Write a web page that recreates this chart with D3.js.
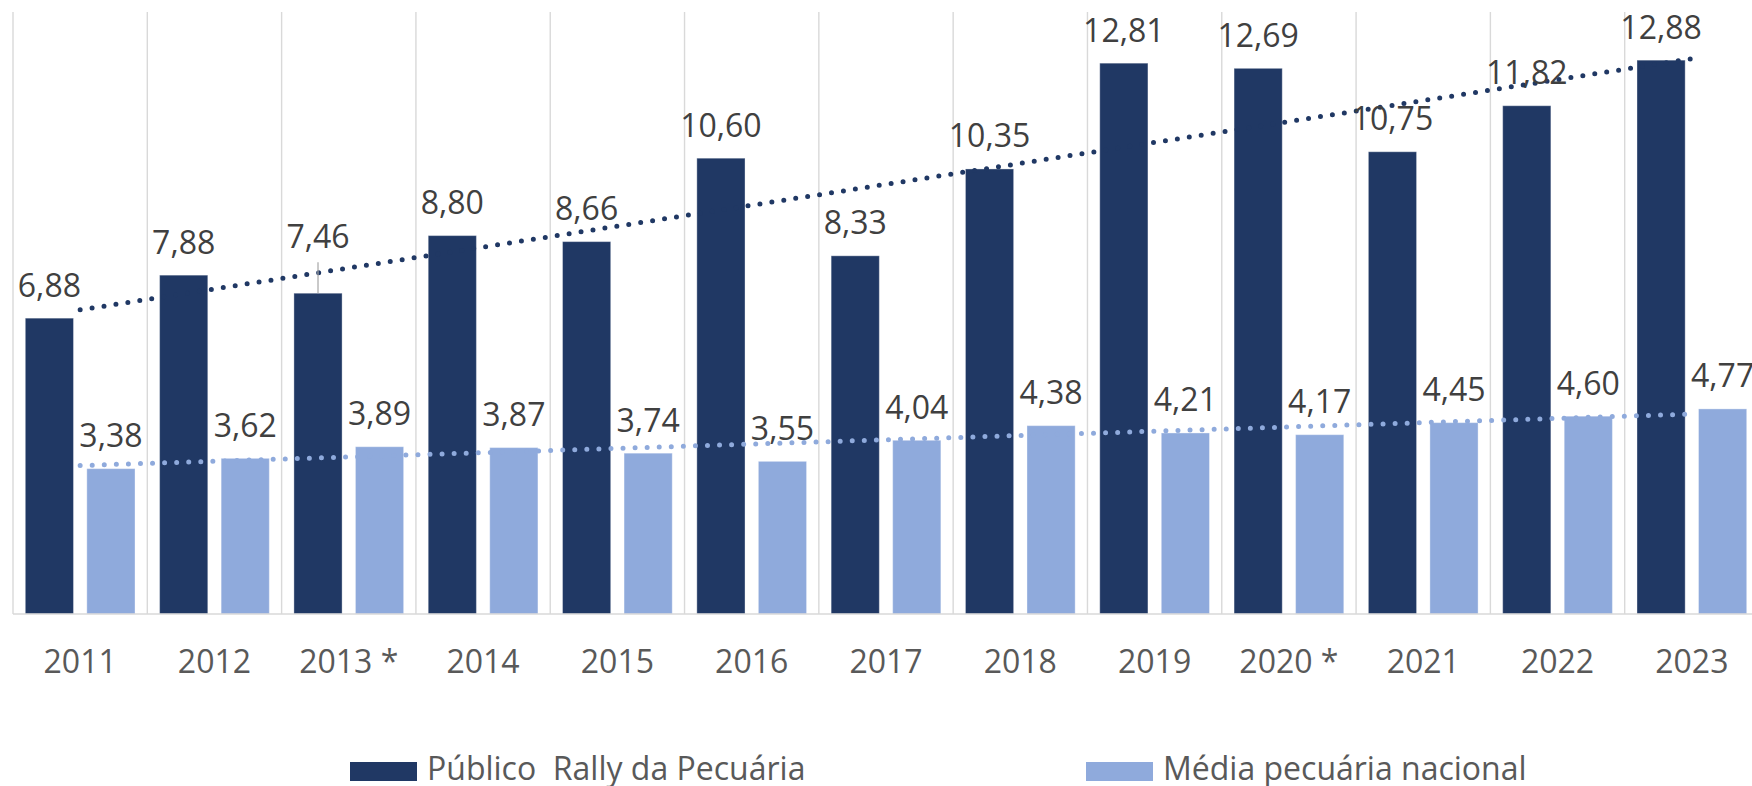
<!DOCTYPE html>
<html><head><meta charset="utf-8">
<script src="https://cdn.jsdelivr.net/npm/d3@7"></script>
<style>html,body{margin:0;padding:0;background:#fff;overflow:hidden}</style>
</head><body>
<svg id="c" width="1752" height="786"></svg>
<script>
const categories = ["2011","2012","2013 *","2014","2015","2016","2017","2018","2019","2020 *","2021","2022","2023"];
const publicoRally = [6.88,7.88,7.46,8.80,8.66,10.60,8.33,10.35,12.81,12.69,10.75,11.82,12.88];
const mediaNacional = [3.38,3.62,3.89,3.87,3.74,3.55,4.04,4.38,4.21,4.17,4.45,4.60,4.77];
const seriesNames = ["Público  Rally da Pecuária","Média pecuária nacional"];
const yDomain = [0, 14];

const colors = ["#203864", "#8faadc"];
const font = "'Open Sans', sans-serif";
const svg = d3.select("#c");

const x = d3.scaleBand().domain(categories).range([13, 1759]).padding(0);
const bw = x.bandwidth();
const x1 = d3.scaleBand().domain([0,1]).range([12.3, bw - 12.3]).paddingInner(0.217).paddingOuter(0);
const y = d3.scaleLinear().domain(yDomain).range([614, 12]);

const series = [publicoRally, mediaNacional];

// gridlines at band boundaries
const bounds = categories.map(c => x(c)).concat([x.range()[1]]);
svg.append("g").selectAll("line").data(bounds).join("line")
  .attr("x1", d => d).attr("x2", d => d)
  .attr("y1", y(yDomain[1])).attr("y2", y(0))
  .attr("stroke", "#d9d9d9").attr("stroke-width", 1.4);

// bars
series.forEach((vals, s) => {
  svg.append("g").selectAll("rect").data(vals).join("rect")
    .attr("x", (d, i) => x(categories[i]) + x1(s))
    .attr("width", x1.bandwidth())
    .attr("y", d => y(d))
    .attr("height", d => y(0) - y(d))
    .attr("fill", colors[s])
    .attr("stroke", "#ffffff").attr("stroke-opacity", 0.35).attr("stroke-width", 1);
});

// axis baseline
svg.append("line").attr("x1", x.range()[0]).attr("x2", 1752)
  .attr("y1", y(0)).attr("y2", y(0))
  .attr("stroke", "#d9d9d9").attr("stroke-width", 1.6);

// linear trendlines
function fit(vals) {
  const n = vals.length;
  const xs = vals.map((d, i) => i + 1);
  const mx = d3.mean(xs), my = d3.mean(vals);
  let sxy = 0, sxx = 0;
  xs.forEach((xv, i) => { sxy += (xv - mx) * (vals[i] - my); sxx += (xv - mx) ** 2; });
  const b = sxy / sxx, a = my - b * mx;
  return [a + b * 1, a + b * n];
}
const cx = c => x(c) + bw / 2;
series.forEach((vals, s) => {
  const [v0, v1] = fit(vals);
  svg.append("line")
    .attr("x1", cx(categories[0])).attr("x2", cx(categories[categories.length - 1]))
    .attr("y1", y(v0)).attr("y2", y(v1))
    .attr("stroke", colors[s]).attr("stroke-width", 5)
    .attr("stroke-linecap", "round").attr("stroke-dasharray", "0 12.07");
});

// data labels
const fmt = v => d3.format(".2f")(v).replace(".", ",");
const lifted = { s: 0, i: 2, lift: 45 };
series.forEach((vals, s) => {
  const g = svg.append("g");
  vals.forEach((v, i) => {
    const bx = x(categories[i]) + x1(s) + x1.bandwidth() / 2;
    let by = y(v) - 21.5;
    if (s === lifted.s && i === lifted.i) {
      by = y(v) - lifted.lift;
      g.append("line").attr("x1", bx).attr("x2", bx)
        .attr("y1", by + 14).attr("y2", y(v))
        .attr("stroke", "#a6a6a6").attr("stroke-width", 1.2);
    }
    g.append("text").attr("x", bx).attr("y", by)
      .attr("text-anchor", "middle")
      .style("font-family", font).style("font-size", "32px")
      .attr("fill", "#404040").text(fmt(v));
  });
});

// x axis labels
svg.append("g").selectAll("text").data(categories).join("text")
  .attr("x", d => cx(d)).attr("y", 673)
  .attr("text-anchor", "middle")
  .style("font-family", font).style("font-size", "32px")
  .attr("fill", "#595959").text(d => d);

// legend
const legendX = [350, 1086];
seriesNames.forEach((name, s) => {
  svg.append("rect").attr("x", legendX[s]).attr("y", 762)
    .attr("width", 67).attr("height", 19).attr("fill", colors[s]);
  svg.append("text").attr("x", legendX[s] + 77).attr("y", 780)
    .style("font-family", font).style("font-size", "32px")
    .style("white-space", "pre")
    .attr("fill", "#595959").text(name);
});
</script>
</body></html>
